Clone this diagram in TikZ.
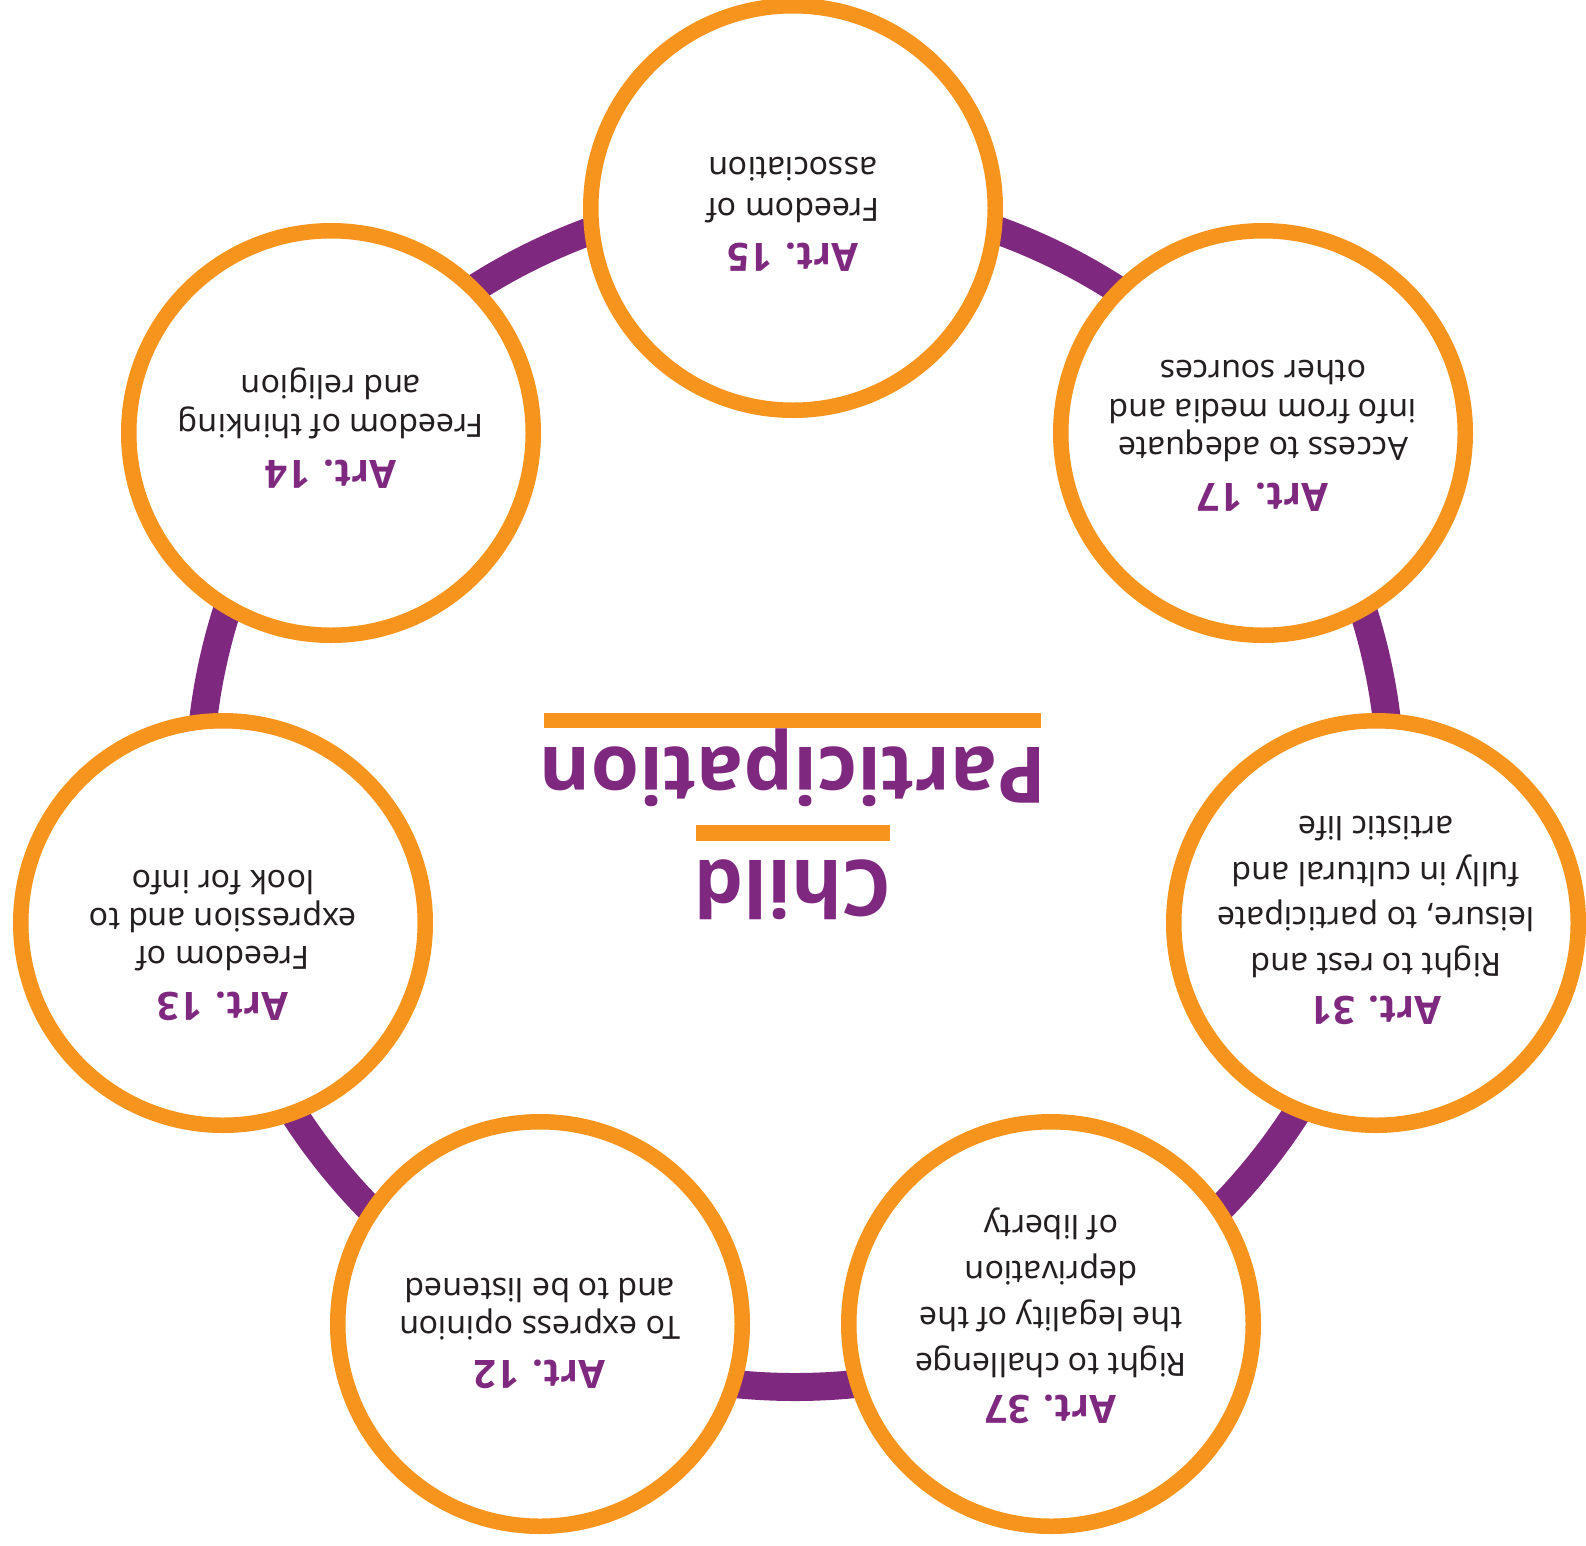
\documentclass[tikz,border=0pt]{standalone}
\usepackage{fontspec}
\setmainfont{Noto Sans}
\newfontfamily\boldsans{Open Sans}
\definecolor{corange}{HTML}{F7941D}
\definecolor{cpurple}{HTML}{7F287F}
\definecolor{ctext}{HTML}{231F20}

\begin{document}
\begin{tikzpicture}
[x=1pt, y=-1pt,
circ/.style={circle, draw=corange, fill=white, line width=15.5pt, inner sep=0pt, minimum size=404.5pt},
art/.style={anchor=base, rotate=180, inner sep=0pt, text=cpurple, font=\boldsans\bfseries\fontsize{39}{47}\selectfont},
line/.style={anchor=base, rotate=180, inner sep=0pt, text=ctext, font=\fontsize{32}{41}\selectfont},
title/.style={anchor=base, rotate=180, inner sep=0pt, text=cpurple, font=\boldsans\bfseries\fontsize{78}{94}\selectfont}]

\useasboundingbox (0,0) rectangle (1586,1545);
\fill[white] (0,0) rectangle (1586,1545);

\draw[cpurple, line width=28pt] (795,791) circle (596);

\node[circ] (c15) at (793,208) {};
\node[circ] (c17) at (1263,433) {};
\node[circ] (c31) at (1376,923) {};
\node[circ] (c37) at (1051,1324) {};
\node[circ] (c12) at (540,1324) {};
\node[circ] (c13) at (223,923) {};
\node[circ] (c14) at (331,433) {};

\node[art] (a15) at (793,243) {Art. 15};
\node[line] (l15a) at (793,198) {Freedom of};
\node[line] (l15b) at (793,157) {association};

\node[art] (a17) at (1263,483.3) {Art. 17};
\node[line] (l17a) at (1263,437.7) {Access to adequate};
\node[line] (l17b) at (1263,399.2) {info from media and};
\node[line] (l17c) at (1263,360.7) {other sources};

\node[art] (a31) at (1376,996.7) {Art. 31};
\node[line] (l31a) at (1376,953.3) {Right to rest and};
\node[line] (l31b) at (1376,907.8) {leisure, to participate};
\node[line] (l31c) at (1376,862.3) {fully in cultural and};
\node[line] (l31d) at (1376,816.8) {artistic life};

\node[art] (a37) at (1051,1395) {Art. 37};
\node[line] (l37a) at (1051,1353.3) {Right to challenge};
\node[line] (l37b) at (1051,1307.3) {the legality of the};
\node[line] (l37c) at (1051,1261.3) {deprivation};
\node[line] (l37d) at (1051,1215.3) {of liberty};

\node[art] (a12) at (540,1360) {Art. 12};
\node[line] (l12a) at (540,1316.7) {To express opinion};
\node[line] (l12b) at (540,1278.3) {and to be listened};

\node[art] (a13) at (223,992.7) {Art. 13};
\node[line] (l13a) at (223,946.7) {Freedom of};
\node[line] (l13b) at (223,908.4) {expression and to};
\node[line] (l13c) at (223,870) {look for info};

\node[art] (a14) at (331,460) {Art. 14};
\node[line] (l14a) at (331,414) {Freedom of thinking};
\node[line] (l14b) at (331,375) {and religion};

\fill[corange] (544,712.7) rectangle (1041,728.3);
\node[title] (part) at (793,747.3) {Participation};
\fill[corange] (695.7,825) rectangle (890,840.7);
\node[title] (child) at (793,860) {Child};
\end{tikzpicture}
\end{document}
